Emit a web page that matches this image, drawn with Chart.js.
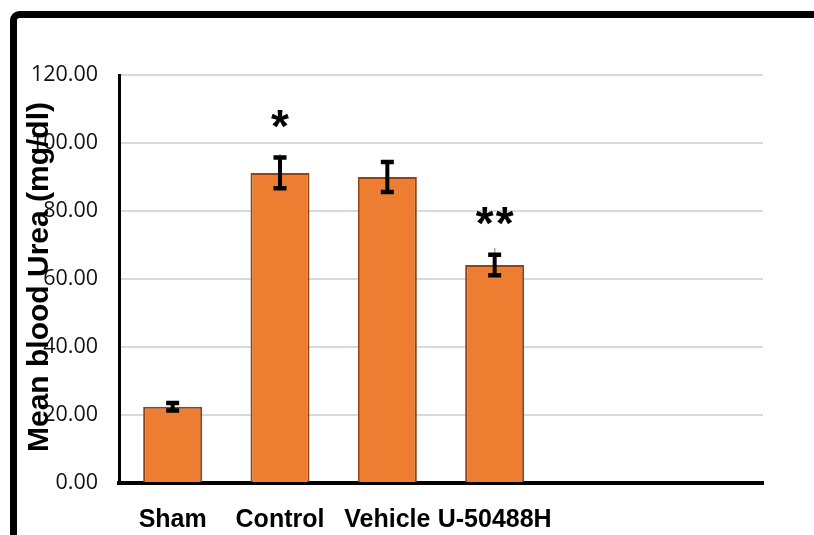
<!DOCTYPE html>
<html lang="en">
<head>
    <meta charset="UTF-8">
    <title>Mean blood Urea</title>
    <script src="https://cdn.jsdelivr.net/npm/chart.js@4.4.1/dist/chart.umd.min.js"></script>
    <style>
        html, body { margin: 0; padding: 0; background: #fff; }
        #wrap { width: 814px; height: 535px; position: relative; }
    </style>
</head>
<body>
    <div id="wrap"><canvas id="ureaChart"></canvas></div>
    <script>
        // Data
        const groups = ['Sham', 'Control', 'Vehicle', 'U-50488H', '', ''];
        const meanUrea = [22.4, 91.2, 90.0, 64.1, null, null];
        const semUrea = [1.1, 4.5, 4.4, 3.0, null, null];
        const greyUpper = [null, 5.6, null, 5.0, null, null]; // thin grey whisker peeking above the cap
        const marks = ['', '*', '', '**', '', ''];
        const yTicks = [0, 20, 40, 60, 80, 100, 120];

        // Outer black frame (top and left edges only)
        const framePlugin = {
            id: 'frame',
            beforeDraw(chart) {
                const ctx = chart.ctx;
                ctx.save();
                ctx.fillStyle = '#fff';
                ctx.fillRect(0, 0, chart.width, chart.height);
                ctx.strokeStyle = '#000';
                ctx.lineWidth = 7;
                ctx.beginPath();
                ctx.moveTo(13.5, chart.height + 10);
                ctx.lineTo(13.5, 21);
                ctx.arcTo(13.5, 14.5, 20, 14.5, 6);
                ctx.lineTo(chart.width + 10, 14.5);
                ctx.stroke();
                ctx.restore();
            }
        };

        // Error bars, significance marks and y title
        const extrasPlugin = {
            id: 'extras',
            afterDatasetsDraw(chart) {
                const ctx = chart.ctx;
                const y = chart.scales.y;
                const meta = chart.getDatasetMeta(0);
                ctx.save();
                meta.data.forEach((bar, i) => {
                    if (meanUrea[i] == null) return;
                    const x = bar.x;
                    const top = y.getPixelForValue(meanUrea[i] + semUrea[i]);
                    const bot = y.getPixelForValue(meanUrea[i] - semUrea[i]);
                    if (greyUpper[i] != null) {
                        ctx.strokeStyle = '#a6a6a6';
                        ctx.lineWidth = 1.5;
                        ctx.beginPath();
                        ctx.moveTo(x, y.getPixelForValue(meanUrea[i] + greyUpper[i]));
                        ctx.lineTo(x, top);
                        ctx.stroke();
                    }
                    ctx.strokeStyle = '#000';
                    ctx.lineWidth = 4;
                    ctx.beginPath();
                    ctx.moveTo(x, top);
                    ctx.lineTo(x, bot);
                    ctx.stroke();
                    ctx.lineWidth = 4.5;
                    ctx.beginPath();
                    ctx.moveTo(x - 6.5, top);
                    ctx.lineTo(x + 6.5, top);
                    ctx.moveTo(x - 6.5, bot);
                    ctx.lineTo(x + 6.5, bot);
                    ctx.stroke();

                    if (marks[i]) {
                        ctx.fillStyle = '#000';
                        ctx.font = 'bold 46px "Liberation Sans"';
                        ctx.textAlign = 'center';
                        ctx.textBaseline = 'alphabetic';
                        const n = marks[i].length;
                        for (let k = 0; k < n; k++) {
                            ctx.fillText('*', x + (k - (n - 1) / 2) * 20, top - 42 + 26);
                        }
                    }
                });

                ctx.translate(48, 277);
                ctx.rotate(-Math.PI / 2);
                ctx.fillStyle = '#000';
                ctx.font = 'bold 30px "Liberation Sans"';
                ctx.textAlign = 'center';
                ctx.textBaseline = 'alphabetic';
                ctx.fillText('Mean blood Urea (mg/dl)', 0, 0);
                ctx.restore();
            }
        };

        new Chart(document.getElementById('ureaChart'), {
            type: 'bar',
            data: {
                labels: groups,
                datasets: [{
                    data: meanUrea,
                    backgroundColor: '#ed7d31',
                    borderColor: '#8f4317',
                    borderWidth: 2,
                    barPercentage: 0.55,
                    categoryPercentage: 1.0
                }]
            },
            options: {
                responsive: true,
                maintainAspectRatio: false,
                animation: false,
                layout: { padding: { left: 0, right: 51, top: 75, bottom: 0 } },
                plugins: {
                    legend: { display: false },
                    tooltip: { enabled: false }
                },
                scales: {
                    x: {
                        grid: { display: false, drawTicks: false },
                        border: { color: '#000', width: 4 },
                        ticks: {
                            autoSkip: false,
                            maxRotation: 0,
                            padding: 22,
                            color: '#000',
                            font: { family: 'Liberation Sans', size: 25, weight: 'bold' }
                        },
                        afterFit(scale) { scale.height = 52; }
                    },
                    y: {
                        min: 0,
                        max: 120,
                        afterBuildTicks(scale) { scale.ticks = yTicks.map(v => ({ value: v })); },
                        grid: {
                            drawTicks: false,
                            lineWidth: 2,
                            color: c => c.tick && c.tick.value === 0 ? 'rgba(0,0,0,0)' : '#d9d9d9'
                        },
                        border: { color: '#000', width: 3 },
                        ticks: {
                            padding: 21,
                            color: '#111',
                            font: { family: 'Open Sans', size: 21.5 },
                            callback: v => Number(v).toFixed(2)
                        },
                        afterFit(scale) { scale.width = 119; }
                    }
                }
            },
            plugins: [framePlugin, extrasPlugin]
        });
    </script>
</body>
</html>
